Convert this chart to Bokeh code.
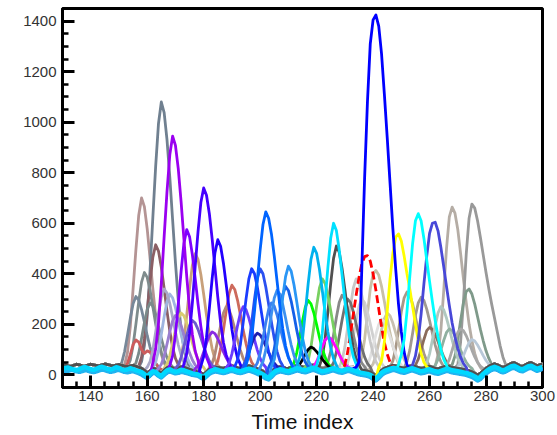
from bokeh.plotting import figure
from bokeh.models import Range1d, SingleIntervalTicker
from bokeh.embed import file_html
from bokeh.resources import INLINE

# ---------------- data ----------------
TIME = list(range(130, 301))

BASE_A = [38, 40, 36, 34, 38, 42, 40, 36, 35, 39,
          42, 40, 37, 36, 40, 43, 41, 38, 36, 39,
          41, 38, 35, 33, 36, 38, 34, 30, 26, 18,
          8, 16, 26, 24, 14, 6, 18, 28, 32, 28,
          24, 28, 32, 30, 26, 22, 18, 16, 14, 8,
          2, 12, 22, 28, 32, 30, 28, 26, 30, 34,
          36, 32, 28, 26, 30, 34, 36, 33, 29, 24,
          20, 14, 6, 2, 12, 22, 28, 32, 30, 27,
          26, 30, 34, 37, 35, 32, 30, 33, 37, 38,
          35, 30, 26, 28, 32, 36, 38, 34, 30, 28,
          32, 35, 33, 30, 26, 22, 20, 18, 15, 11,
          4, -2, 6, 18, 26, 30, 34, 38, 36, 32,
          29, 27, 31, 35, 37, 33, 29, 26, 28, 32,
          34, 30, 26, 24, 28, 32, 35, 33, 30, 28,
          26, 24, 22, 20, 16, 12, 6, 0, 6, 16,
          26, 34, 40, 44, 40, 34, 30, 34, 40, 46,
          48, 42, 36, 34, 40, 46, 48, 42, 36, 40,
          44]

BASE_B = [24, 27, 29, 25, 21, 19, 23, 28, 31, 27,
          22, 20, 24, 29, 32, 28, 23, 21, 25, 30,
          27, 22, 19, 21, 26, 23, 18, 15, 11, 3,
          -7, 5, 15, 12, 2, -5, 8, 18, 22, 16,
          12, 15, 20, 18, 14, 10, 6, 4, 2, -4,
          -10, 2, 12, 18, 22, 20, 16, 14, 18, 22,
          24, 20, 16, 14, 18, 22, 25, 22, 18, 12,
          8, 2, -6, -12, 0, 12, 18, 22, 20, 16,
          14, 18, 22, 26, 24, 20, 18, 22, 26, 28,
          24, 18, 14, 16, 20, 24, 26, 22, 18, 16,
          20, 24, 22, 18, 14, 10, 8, 6, 4, 0,
          -8, -14, -4, 8, 16, 20, 24, 28, 26, 22,
          18, 16, 20, 24, 26, 22, 18, 14, 16, 20,
          22, 18, 14, 12, 16, 20, 24, 22, 18, 16,
          14, 12, 10, 8, 4, 0, -6, -14, -8, 4,
          14, 22, 28, 32, 28, 22, 18, 22, 28, 34,
          36, 30, 24, 22, 28, 34, 36, 30, 24, 28,
          32]

BASE_C = [14, 12, 16, 20, 18, 14, 12, 15, 19, 17,
          13, 11, 14, 18, 21, 19, 15, 12, 14, 18,
          20, 16, 12, 10, 13, 15, 11, 7, 2, -6,
          -12, -2, 8, 6, -4, -10, 0, 10, 14, 10,
          6, 8, 12, 10, 7, 4, 0, -2, -4, -10,
          -16, -6, 4, 10, 14, 12, 9, 7, 10, 14,
          16, 13, 9, 7, 10, 14, 17, 14, 10, 5,
          0, -6, -14, -18, -8, 4, 10, 14, 12, 9,
          7, 10, 14, 18, 16, 12, 10, 14, 18, 20,
          16, 11, 7, 9, 12, 16, 18, 14, 10, 8,
          12, 16, 14, 10, 6, 2, 0, -2, -4, -8,
          -16, -22, -12, 0, 8, 12, 16, 20, 18, 14,
          10, 8, 12, 16, 18, 14, 10, 6, 8, 12,
          14, 10, 6, 4, 8, 12, 16, 14, 10, 8,
          6, 4, 2, 0, -4, -8, -14, -22, -16, -4,
          6, 14, 20, 24, 20, 14, 10, 14, 20, 26,
          28, 22, 16, 14, 20, 26, 28, 22, 16, 20,
          24]

# one entry per curve: colour, baseline used, first time index of the peak, peak values
CURVE_COLORS = [
    "#b49494", "#708090", "#8b5f65", "#7f8c8d", "#778899", "#7a8a8a", "#cd5c5c",
    "#c8a07a", "#9fb6e0", "#d8cc70", "#a9a9c8", "#cd6a5c", "#b08878",
    "#b5ada5", "#999999", "#7f9a8a", "#c8c0a8", "#a89888", "#a09a90", "#8b6b5b",
    "#b0c8c0", "#90b0a0", "#a8a8a8", "#b8c8d8", "#c8c0b0", "#d0d0d0", "#e0e0e0",
    "#c8c8c8", "#888888", "#707070", "#505050",
    "#9a7fd0", "#78d060", "#00ff00", "#ff00ff", "#000000", "#ff0000", "#ffff00",
    "#6a5acd", "#8a2be2", "#7f00ff", "#9a00f0", "#4400ff", "#2200ff", "#6a3cff",
    "#2020b0", "#1a3cff", "#2a50f0", "#3a80f0", "#3c90f0", "#1560e8", "#2a96f5",
    "#0064ff", "#00b2ee", "#00e0ff", "#4848d8", "#0000ff", "#00ffff",
    "#20b4f0", "#00d8ff",
]
CURVE_BASES = [
    "A", "A", "A", "A", "A", "A", "A",
    "A", "A", "A", "A", "A", "A",
    "A", "A", "A", "A", "A", "A", "A",
    "A", "A", "A", "A", "A", "A", "A",
    "A", "A", "A", "A",
    "B", "B", "B", "B", "B", "B", "B",
    "C", "C", "C", "C", "C", "C", "C",
    "C", "C", "C", "C", "C", "C", "C",
    "C", "C", "C", "C", "C", "C",
    "C", "B",
]
CURVE_DASHED = [False] * 36 + [True] + [False] * 23
PEAK_STARTS = [
    152, 158, 157, 153, 150, 155, 152,
    171, 162, 166, 160, 184, 182,
    262, 270, 268, 235, 246, 251, 254,
    258, 261, 265, 269, 239, 230, 237,
    228, 223, 225, 221,
    164, 216, 211, 218, 212, 230, 242,
    170, 177, 168, 162, 173, 179, 188,
    193, 191, 194, 198, 200, 203, 204,
    195, 213, 220, 254, 233, 249,
    130, 130,
]
PEAK_VALUES = [
    [40, 88, 190, 340, 496, 632, 700, 666, 578, 462, 340, 231, 142, 81, 47],
    [52, 115, 232, 412, 624, 826, 995, 1080, 1038, 932, 783, 614, 444, 296, 179, 105, 62],
    [35, 70, 144, 253, 367, 466, 515, 490, 426, 342, 253, 173, 109, 65, 40],
    [32, 58, 116, 201, 290, 367, 405, 386, 336, 270, 201, 139, 89, 55, 35],
    [29, 49, 93, 156, 223, 281, 310, 296, 258, 209, 156, 110, 72, 46, 32],
    [28, 47, 86, 145, 206, 259, 285, 272, 237, 192, 145, 102, 68, 44, 31],
    [25, 45, 80, 120, 138, 130, 100, 85, 95, 90, 70, 45, 30, 22],
    [34, 66, 135, 236, 342, 434, 480, 457, 397, 319, 236, 163, 103, 61, 38],
    [29, 50, 95, 161, 230, 290, 320, 305, 266, 215, 161, 113, 74, 47, 32],
    [27, 43, 76, 126, 178, 223, 245, 234, 205, 166, 126, 90, 61, 40, 29],
    [30, 52, 100, 170, 244, 308, 340, 324, 282, 228, 170, 119, 78, 49, 33],
    [30, 54, 104, 177, 255, 322, 355, 338, 295, 238, 177, 124, 80, 50, 33],
    [28, 45, 83, 138, 195, 245, 270, 258, 225, 183, 138, 98, 65, 43, 30],
    [35, 80, 175, 330, 500, 625, 664, 640, 575, 480, 380, 285, 200, 135, 85, 50, 30],
    [40, 130, 290, 480, 620, 676, 660, 610, 545, 475, 405, 340, 280, 225, 170, 115, 70, 40, 28],
    [40, 75, 140, 215, 285, 330, 340, 320, 280, 230, 180, 135, 95, 65, 42, 30],
    [35, 70, 140, 240, 340, 400, 413, 395, 350, 290, 225, 165, 115, 75, 45, 30],
    [30, 55, 105, 175, 250, 305, 328, 315, 280, 230, 175, 125, 85, 55, 35],
    [30, 52, 98, 165, 235, 285, 307, 295, 260, 215, 165, 118, 80, 52, 33],
    [25, 38, 62, 100, 140, 175, 188, 180, 160, 132, 100, 72, 50, 35, 26],
    [28, 45, 83, 138, 195, 245, 270, 258, 225, 183, 138, 98, 65, 43, 30],
    [25, 37, 61, 98, 136, 168, 182, 175, 155, 128, 98, 71, 50, 35, 26],
    [25, 37, 61, 98, 136, 168, 182, 175, 155, 128, 98, 71, 50, 35, 26],
    [24, 32, 50, 76, 104, 128, 140, 134, 118, 98, 76, 57, 42, 31, 25],
    [27, 43, 76, 126, 178, 223, 245, 234, 205, 166, 126, 90, 61, 40, 29],
    [28, 48, 90, 152, 216, 272, 300, 286, 250, 202, 152, 107, 70, 45, 31],
    [26, 40, 70, 114, 160, 200, 220, 210, 184, 150, 114, 82, 56, 38, 28],
    [31, 56, 110, 189, 272, 344, 380, 362, 315, 254, 189, 132, 85, 52, 34],
    [29, 50, 94, 159, 227, 286, 315, 300, 262, 212, 159, 111, 73, 47, 32],
    [28, 48, 90, 152, 216, 272, 300, 286, 250, 202, 152, 107, 70, 45, 31],
    [35, 69, 143, 250, 363, 461, 510, 486, 422, 339, 250, 172, 108, 64, 40],
    [26, 42, 74, 121, 171, 214, 235, 224, 196, 160, 121, 87, 59, 39, 29],
    [31, 56, 110, 189, 272, 344, 380, 362, 315, 254, 189, 132, 85, 52, 34],
    [28, 48, 89, 149, 213, 268, 295, 281, 246, 199, 149, 105, 70, 45, 31],
    [24, 33, 53, 81, 111, 137, 150, 144, 127, 105, 81, 60, 43, 32, 25],
    [24, 30, 42, 60, 82, 100, 110, 104, 92, 78, 62, 48, 36, 28, 24],
    [40, 90, 165, 240, 315, 385, 440, 468, 472, 450, 400, 335, 262, 190, 128, 82, 50, 32],
    [30, 55, 130, 250, 380, 480, 545, 558, 530, 470, 400, 340, 270, 200, 135, 85, 50, 32],
    [26, 40, 69, 112, 157, 196, 215, 205, 180, 147, 112, 80, 55, 38, 28],
    [25, 35, 58, 91, 125, 155, 170, 163, 143, 118, 91, 67, 47, 34, 26],
    [37, 76, 159, 281, 409, 520, 575, 547, 475, 381, 281, 192, 120, 70, 42],
    [48, 103, 205, 362, 547, 723, 871, 945, 908, 816, 686, 538, 390, 260, 159, 94, 57],
    [42, 85, 164, 286, 430, 567, 682, 740, 711, 639, 538, 423, 308, 207, 128, 78, 49],
    [35, 72, 149, 262, 381, 484, 535, 509, 442, 355, 262, 180, 113, 66, 41],
    [28, 45, 83, 138, 195, 245, 270, 258, 225, 183, 138, 98, 65, 43, 30],
    [24, 35, 56, 88, 122, 151, 165, 158, 139, 114, 88, 65, 46, 33, 26],
    [32, 60, 120, 208, 300, 380, 420, 400, 348, 280, 208, 144, 92, 56, 36],
    [32, 60, 120, 208, 300, 380, 420, 400, 348, 280, 208, 144, 92, 56, 36],
    [28, 47, 86, 145, 206, 259, 285, 272, 237, 192, 145, 102, 68, 44, 31],
    [29, 52, 99, 168, 241, 304, 335, 319, 278, 225, 168, 118, 77, 48, 33],
    [30, 53, 103, 175, 251, 317, 350, 334, 291, 235, 175, 122, 79, 50, 33],
    [32, 61, 123, 213, 307, 389, 430, 410, 356, 287, 213, 147, 94, 57, 36],
    [39, 76, 145, 251, 376, 495, 595, 645, 620, 558, 470, 370, 270, 183, 114, 70, 45],
    [35, 69, 141, 248, 360, 457, 505, 481, 418, 335, 248, 170, 107, 64, 39],
    [37, 78, 165, 293, 426, 542, 600, 571, 496, 397, 293, 200, 124, 72, 43],
    [40, 75, 140, 240, 360, 470, 560, 600, 604, 570, 505, 430, 350, 275, 205, 150, 105, 70, 45, 30],
    [25, 30, 50, 420, 780, 1080, 1310, 1405, 1424, 1380, 1270, 1110, 940, 760, 580, 420, 280, 170, 90, 40, 25],
    [40, 80, 140, 250, 390, 520, 610, 638, 610, 540, 455, 370, 290, 215, 150, 100, 62, 38],
    [],
    [],
]
BASELINE_ONLY_WIDTH = 4.5

X_TICK_STEP = 20
Y_TICK_STEP = 200

# ---------------- figure ----------------
p = figure(width=557, height=435, output_backend="svg", toolbar_location=None,
           x_range=Range1d(130, 300), y_range=Range1d(-50, 1450),
           min_border_left=62, min_border_right=15, min_border_top=8, min_border_bottom=10)
p.background_fill_color = "white"
p.border_fill_color = "white"
p.outline_line_color = "black"
p.outline_line_width = 3
p.xgrid.visible = False
p.ygrid.visible = False

baselines = {"A": BASE_A, "B": BASE_B, "C": BASE_C}
for color, base, start, vals, dashed in zip(CURVE_COLORS, CURVE_BASES, PEAK_STARTS,
                                           PEAK_VALUES, CURVE_DASHED):
    y = list(baselines[base])
    for i, v in enumerate(vals):
        y[start - TIME[0] + i] = v
    p.line(TIME, y, line_color=color,
           line_width=BASELINE_ONLY_WIDTH if not vals else 2.8,
           line_join="round", line_dash="8 4" if dashed else "solid")

p.xaxis.ticker = SingleIntervalTicker(interval=X_TICK_STEP, num_minor_ticks=4)
p.yaxis.ticker = SingleIntervalTicker(interval=Y_TICK_STEP, num_minor_ticks=4)
p.xaxis.axis_label = "Time index"
p.xaxis.axis_label_text_font = "Liberation Sans"
p.xaxis.axis_label_text_font_style = "normal"
p.xaxis.axis_label_text_font_size = "21px"
p.xaxis.axis_label_text_color = "#111111"
p.xaxis.axis_label_standoff = 6
for ax in (p.xaxis, p.yaxis):
    ax.axis_line_width = 3
    ax.axis_line_color = "black"
    ax.major_tick_in = 12
    ax.major_tick_out = 0
    ax.minor_tick_in = 6
    ax.minor_tick_out = 0
    ax.major_tick_line_width = 3
    ax.minor_tick_line_width = 2.5
    ax.major_label_text_font = "Liberation Sans"
    ax.major_label_text_font_size = "15px"
    ax.major_label_text_color = "#333333"
p.xaxis.major_label_standoff = 3
p.yaxis.major_label_standoff = 6

open("out.html", "w").write(file_html(p, INLINE))
